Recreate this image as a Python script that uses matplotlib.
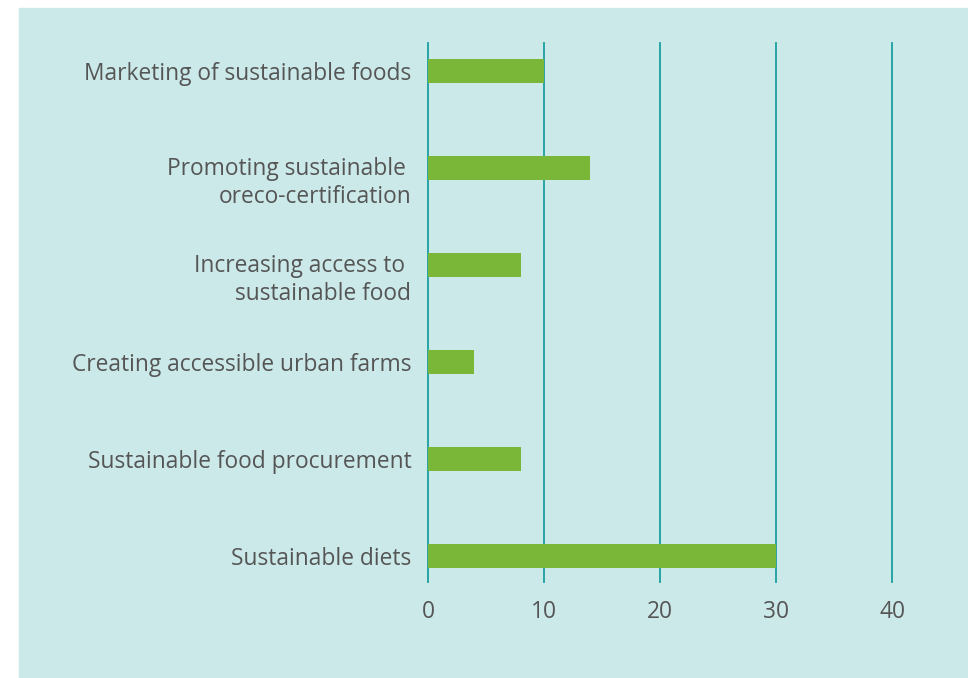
import matplotlib
matplotlib.use("Agg")
import matplotlib.pyplot as plt
from matplotlib.patches import Rectangle

plt.rcParams["font.family"] = ["Open Sans", "DejaVu Sans"]

# bottom to top
categories = [
    "Sustainable diets",
    "Sustainable food procurement",
    "Creating accessible urban farms",
    "Increasing access to \nsustainable food",
    "Promoting sustainable \noreco-certification",
    "Marketing of sustainable foods",
]
values = [30, 8, 4, 8, 14, 10]
xticks = [0, 10, 20, 30, 40]

BG = "#cce9e9"
BAR = "#7ab738"
GRID = "#1a9e9e"
TXT = "#555555"

fig = plt.figure(figsize=(9.68, 6.78), dpi=100)
fig.patches.append(Rectangle((19 / 968, 0), 1, 1 - 8 / 678,
                             transform=fig.transFigure, color=BG, zorder=-10))

W, H = 968, 678
left, right, top, bottom = 428, 892, 43, 582
ax = fig.add_axes([left / W, 1 - bottom / H, (right - left) / W, (bottom - top) / H])
ax.set_facecolor("none")

y = list(range(len(categories)))
ax.barh(y, values, height=0.24, color=BAR, zorder=3)
ax.set_xlim(0, 40)
ax.set_ylim(-0.268, 5.289)
ax.set_yticks(y)
ax.set_yticklabels([])
# category labels drawn by hand so two-line ones start level with the bar
for yi, cat in zip(y, categories):
    dy = -7.2 if "\n" in cat else 0
    ax.annotate(cat, xy=(0, yi), xycoords=("axes fraction", "data"),
                xytext=(-12, dy), textcoords="offset points",
                ha="right", va="center_baseline",
                multialignment="right", linespacing=1.2,
                fontsize=16.4, color=TXT)
ax.set_xticks(xticks)
ax.set_xticklabels([str(t) for t in xticks], fontsize=16.4, color=TXT)
for t in xticks:
    ax.axvline(t, color=GRID, lw=1.3, zorder=2, clip_on=False)
for s in ax.spines.values():
    s.set_visible(False)
ax.tick_params(axis="y", length=0)
ax.tick_params(axis="x", length=0, pad=13)

fig.savefig("out.png", dpi=100)
